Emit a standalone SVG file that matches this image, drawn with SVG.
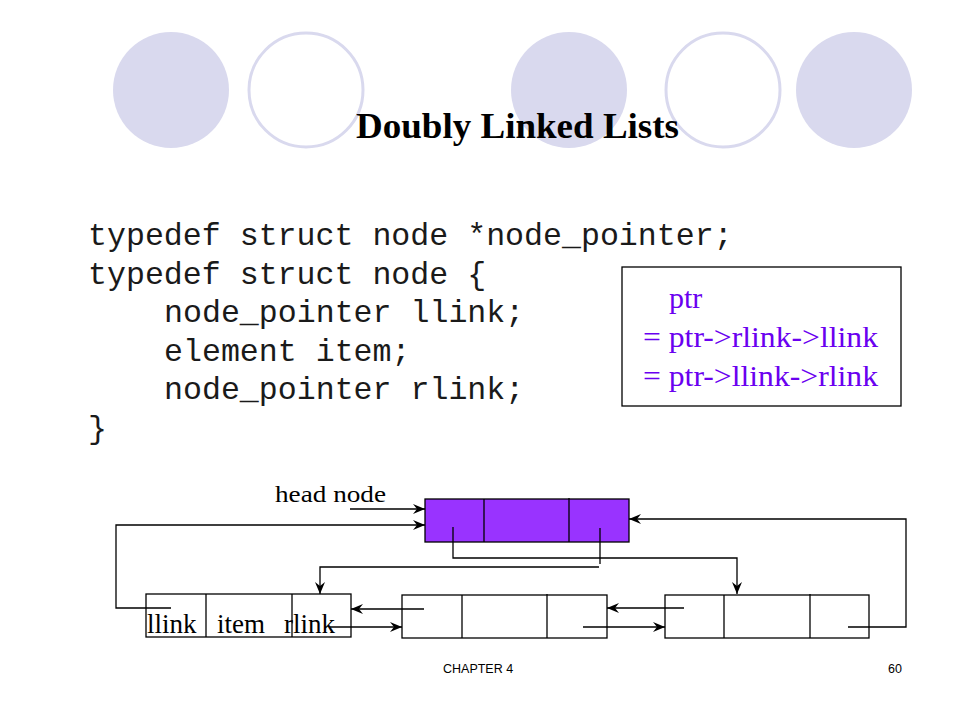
<svg xmlns="http://www.w3.org/2000/svg" width="960" height="720" viewBox="0 0 960 720">
<style>
.dec-fill{fill:#d9d9ee;stroke:none}
.dec-line{fill:#ffffff;stroke:#d9d9ee;stroke-width:3}
.code{font-family:"Liberation Mono","Courier New",monospace;font-size:31.6px;fill:#1a1a1a}
.serif{font-family:"Liberation Serif","Times New Roman",serif;fill:#000}
.ptr{font-family:"Liberation Serif","Times New Roman",serif;font-size:30px;fill:#6a00f0}
.box{fill:#ffffff;stroke:#000;stroke-width:1.3}
.head{fill:#9933ff;stroke:#000;stroke-width:1.3}
.div{stroke:#000;stroke-width:1.3}
.conn{fill:none;stroke:#000;stroke-width:1.3}
.foot{font-family:"Liberation Sans",Arial,sans-serif;font-size:12.5px;fill:#000}
</style>
<defs>
<marker id="arr" viewBox="0 0 12 10" refX="12" refY="5" markerWidth="12" markerHeight="10" markerUnits="userSpaceOnUse" orient="auto">
<path d="M0,0 L12,5 L0,10 L4,5 Z" fill="#000"/>
</marker>
</defs>
<rect width="960" height="720" fill="#ffffff"/>
<g id="decoration">
<ellipse class="dec-fill" cx="171" cy="90" rx="58" ry="58"/>
<ellipse class="dec-line" cx="306" cy="90" rx="57" ry="57"/>
<ellipse class="dec-fill" cx="569" cy="90" rx="58" ry="58"/>
<ellipse class="dec-line" cx="723" cy="90" rx="57" ry="57"/>
<ellipse class="dec-fill" cx="854" cy="90" rx="58" ry="58"/>
</g>
<text id="title" class="serif" x="356" y="138" font-size="35" font-weight="bold" textLength="323" lengthAdjust="spacingAndGlyphs">Doubly Linked Lists</text>
<g id="code">
<text class="code" x="88" y="245">typedef struct node *node_pointer;</text>
<text class="code" x="88" y="284">typedef struct node {</text>
<text class="code" x="164" y="322">node_pointer llink;</text>
<text class="code" x="164" y="361">element item;</text>
<text class="code" x="164" y="399">node_pointer rlink;</text>
<text class="code" x="88" y="438">}</text>
</g>
<g id="ptr-box">
<rect x="622" y="267" width="279" height="139" fill="#ffffff" stroke="#000" stroke-width="1.3"/>
<text class="ptr" x="669" y="308">ptr</text>
<text class="ptr" x="643" y="347" textLength="235" lengthAdjust="spacingAndGlyphs">= ptr-&gt;rlink-&gt;llink</text>
<text class="ptr" x="643" y="386" textLength="235" lengthAdjust="spacingAndGlyphs">= ptr-&gt;llink-&gt;rlink</text>
</g>
<g id="head-node">
<rect class="head" x="425" y="499" width="204" height="43"/>
<line class="div" x1="484" y1="499" x2="484" y2="542"/>
<line class="div" x1="569" y1="498" x2="569" y2="542"/>
</g>
<text id="head-label" class="serif" x="275" y="502" font-size="24" textLength="111" lengthAdjust="spacingAndGlyphs">head node</text>
<g id="node1">
<rect class="box" x="146" y="594" width="205" height="43"/>
<line class="div" x1="206" y1="594" x2="206" y2="637"/>
<line class="div" x1="292" y1="594" x2="292" y2="637"/>
<text class="serif" x="147" y="633" font-size="27">llink</text>
<text class="serif" x="217" y="633" font-size="27">item</text>
<text class="serif" x="284" y="633" font-size="27">rlink</text>
</g>
<g id="node2">
<rect class="box" x="402" y="595" width="205" height="43"/>
<line class="div" x1="462" y1="595" x2="462" y2="638"/>
<line class="div" x1="547" y1="594" x2="547" y2="638"/>
</g>
<g id="node3">
<rect class="box" x="665" y="595" width="204" height="43"/>
<line class="div" x1="724" y1="595" x2="724" y2="638"/>
<line class="div" x1="810" y1="594" x2="810" y2="638"/>
</g>
<g id="connectors">
<line class="conn" x1="350" y1="509" x2="425" y2="509" marker-end="url(#arr)"/>
<polyline class="conn" points="171,608 116,608 116,525 425,525" marker-end="url(#arr)"/>
<polyline class="conn" points="453,527 453,558 737,558 737,594" marker-end="url(#arr)"/>
<line class="conn" x1="600" y1="528" x2="600" y2="564"/>
<polyline class="conn" points="599,567 320,567 320,594" marker-end="url(#arr)"/>
<polyline class="conn" points="848,627 906,627 906,519 629,519" marker-end="url(#arr)"/>
<line class="conn" x1="424" y1="609" x2="351" y2="609" marker-end="url(#arr)"/>
<line class="conn" x1="330" y1="627" x2="402" y2="627" marker-end="url(#arr)"/>
<line class="conn" x1="684" y1="608" x2="607" y2="608" marker-end="url(#arr)"/>
<line class="conn" x1="583" y1="627" x2="665" y2="627" marker-end="url(#arr)"/>
</g>
<g id="footer">
<text class="foot" x="443" y="673">CHAPTER 4</text>
<text class="foot" x="902" y="673" text-anchor="end">60</text>
</g>
</svg>
